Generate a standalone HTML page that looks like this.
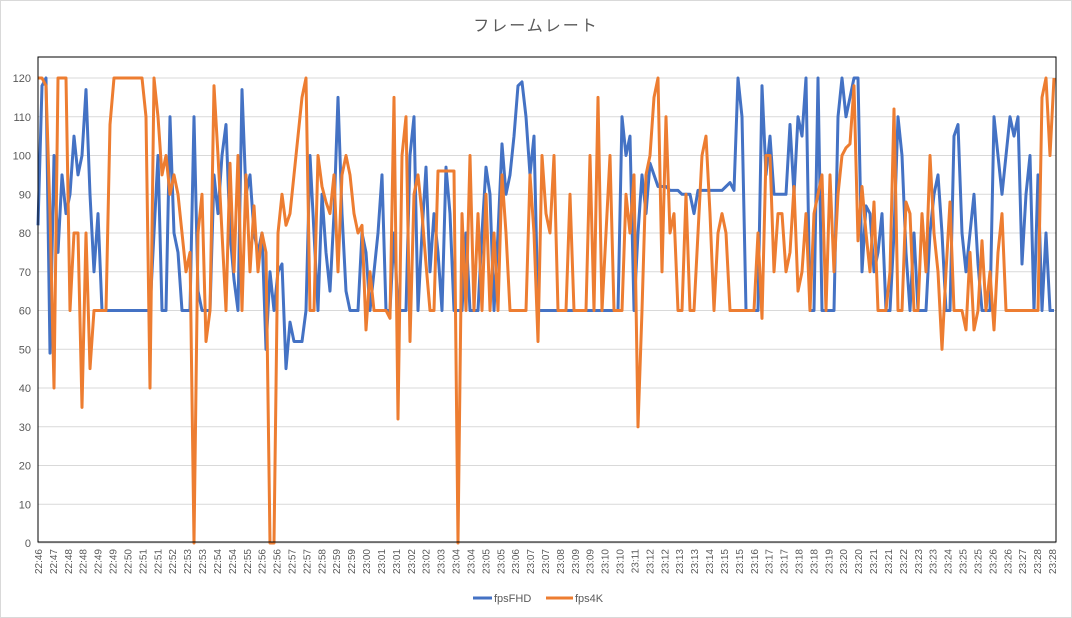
<!DOCTYPE html>
<html><head><meta charset="utf-8">
<style>
html,body{margin:0;padding:0;background:#fff;}
#wrap{position:relative;width:1072px;height:618px;overflow:hidden;}
svg text{font-family:"Liberation Sans","Noto Sans CJK JP",sans-serif;}
</style></head>
<body>
<div id="wrap">
<svg id="chart" width="1072" height="618" viewBox="0 0 1072 618">
<rect x="0.5" y="0.5" width="1071" height="617" fill="#fff" stroke="#d9d9d9"/>
<text x="536" y="31" text-anchor="middle" font-size="16" fill="#595959" letter-spacing="2">フレームレート</text>
<g id="grid"></g>
<g id="yaxis"></g>
<g id="xaxis"></g>
<g id="series"></g>
<rect x="38" y="57" width="1018" height="485" fill="none" stroke="#000" stroke-width="1"/>
<g>
<g>
<line x1="473" y1="598" x2="492" y2="598" stroke="#4472C4" stroke-width="3"/>
<text x="494" y="602" font-size="11" fill="#595959">fpsFHD</text>
</g>
<g>
<line x1="546" y1="598" x2="573" y2="598" stroke="#ED7D31" stroke-width="3"/>
<text x="575" y="602" font-size="11" fill="#595959">fps4K</text>
</g>
</g>
</svg>
</div>
<script>
const yTicks = [0,10,20,30,40,50,60,70,80,90,100,110,120];
const xLabels = ["22:46","22:47","22:48","22:48","22:49","22:49","22:50","22:51","22:51","22:52","22:53","22:53","22:54","22:54","22:55","22:56","22:56","22:57","22:57","22:58","22:59","22:59","23:00","23:01","23:01","23:02","23:02","23:03","23:04","23:04","23:05","23:05","23:06","23:07","23:07","23:08","23:09","23:09","23:10","23:10","23:11","23:12","23:12","23:13","23:13","23:14","23:15","23:15","23:16","23:17","23:17","23:18","23:18","23:19","23:20","23:20","23:21","23:21","23:22","23:23","23:23","23:24","23:25","23:25","23:26","23:26","23:27","23:28","23:28"];
const fpsFHD = [82,118,120,49,100,75,95,85,90,105,
95,100,117,90,70,85,60,60,60,60,
60,60,60,60,60,60,60,60,60,80,
100,60,60,110,80,75,60,60,60,110,
65,60,60,60,95,85,100,108,80,68,
60,117,90,95,80,75,80,50,70,60,
70,72,45,57,52,52,52,60,100,80,
60,90,75,65,85,115,85,65,60,60,
60,80,75,60,70,80,95,60,60,80,
60,60,60,100,110,60,80,97,70,85,
75,60,97,85,60,60,60,80,60,60,
60,80,97,90,60,80,103,90,95,105,
118,119,110,95,105,60,60,60,60,60,
60,60,60,60,60,60,60,60,60,60,
60,60,60,60,60,60,110,100,105,60,
80,95,85,98,95,92,92,92,91,91,
91,90,90,90,85,91,91,91,91,91,
91,91,92,93,91,120,110,60,60,60,
60,118,95,105,90,90,90,90,108,90,
110,105,120,60,60,120,60,60,60,60,
110,120,110,115,120,120,70,87,85,70,
75,85,60,60,80,110,100,75,60,80,
60,60,60,80,90,95,80,60,60,105,
108,80,70,80,90,72,60,60,60,110,
100,90,100,110,105,110,72,90,100,60,
95,60,80,60,60];
const fps4K = [120,120,118,85,40,120,120,120,60,80,
80,35,80,45,60,60,60,60,108,120,
120,120,120,120,120,120,120,110,40,120,
110,95,100,90,95,90,80,70,75,0,
80,90,52,60,118,100,80,60,98,70,
100,60,95,70,87,70,80,75,0,0,
80,90,82,85,95,105,115,120,60,60,
100,92,88,85,95,70,95,100,95,85,
80,82,55,70,60,60,60,60,58,115,
32,100,110,52,90,95,85,72,60,60,
96,96,96,96,96,0,85,60,100,60,
85,60,90,60,80,60,95,80,60,60,
60,60,60,95,80,52,100,85,80,100,
60,60,60,90,60,60,60,60,100,60,
115,60,80,100,60,60,60,90,80,95,
30,60,95,100,115,120,70,110,80,85,
60,60,90,60,60,80,100,105,85,60,
80,85,80,60,60,60,60,60,60,60,
80,58,100,100,70,85,85,70,75,92,
65,70,85,60,85,90,95,60,95,70,
90,100,102,103,118,78,92,80,70,88,
60,60,60,70,112,60,60,88,85,60,
60,85,70,100,80,70,50,70,88,60,
60,60,55,75,55,60,78,60,70,55,
75,85,60,60,60,60,60,60,60,60,
60,115,120,100,120];

const NS="http://www.w3.org/2000/svg";
const X0=38, X1=1056, Y0=543, Y1=78, YMAX=120;
function yScale(v){return Y0-(v/YMAX)*(Y0-Y1);}
function xScale(i,n){return X0+(i/(n-1))*(X1-2-X0);}
function mk(tag,attrs){const e=document.createElementNS(NS,tag);for(const k in attrs)e.setAttribute(k,attrs[k]);return e;}

const grid=document.getElementById('grid');
const yaxis=document.getElementById('yaxis');
yTicks.forEach(t=>{
  const y=yScale(t);
  const l=mk('line',{x1:X0,x2:X1,y1:y,y2:y,stroke:'#d9d9d9','stroke-width':1});
  
  
  grid.appendChild(l);
  const tx=mk('text',{x:31,y:y+4,'text-anchor':'end','font-size':11,fill:'#595959'});
  tx.textContent=t;
  
  
  yaxis.appendChild(tx);
});

const xaxis=document.getElementById('xaxis');
const nl=xLabels.length;
xLabels.forEach((lab,i)=>{
  const x=X0+i*(1052-X0)/(nl-1);
  const tx=mk('text',{transform:'translate('+(x+4)+',549) rotate(-90)','text-anchor':'end','font-size':10,fill:'#595959'});
  tx.textContent=lab;
  
  
  xaxis.appendChild(tx);
});

function drawSeries(vals,color,name){
  const n=vals.length;
  const d=vals.map((v,i)=>(i?'L':'M')+xScale(i,n).toFixed(1)+' '+yScale(v).toFixed(1)).join(' ');
  const p=mk('path',{d:d,fill:'none',stroke:color,'stroke-width':3,'stroke-linejoin':'round'});
  
  
  document.getElementById('series').appendChild(p);
}
drawSeries(fpsFHD,'#4472C4','line-fpsfhd');
drawSeries(fps4K,'#ED7D31','line-fps4k');
</script>
</body></html>
